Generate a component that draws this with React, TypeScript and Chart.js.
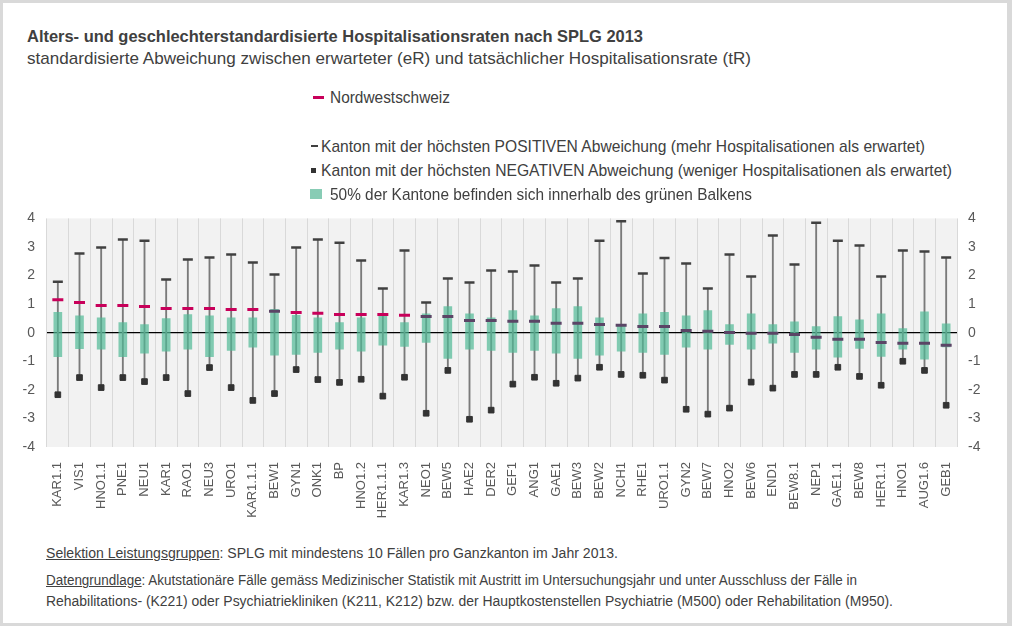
import React, { useEffect, useLayoutEffect, useRef } from 'react';
import { Chart, registerables } from 'chart.js';

Chart.register(...registerables);

const categories = ['KAR1.1','VIS1','HNO1.1','PNE1','NEU1','KAR1','RAO1','NEU3','URO1','KAR1.1.1','BEW1','GYN1','ONK1','BP','HNO1.2','HER1.1.1','KAR1.3','NEO1','BEW5','HAE2','DER2','GEF1','ANG1','GAE1','BEW3','BEW2','NCH1','RHE1','URO1.1','GYN2','BEW7','HNO2','BEW6','END1','BEW8.1','NEP1','GAE1.1','BEW8','HER1.1','HNO1','AUG1.6','GEB1'];

const maxValues = [1.78,2.77,2.98,3.26,3.22,1.86,2.56,2.63,2.74,2.46,2.04,2.98,3.26,3.15,2.53,1.55,2.88,1.06,1.90,1.76,2.18,2.14,2.35,1.76,1.90,3.22,3.90,2.07,2.61,2.42,1.55,2.74,1.97,3.40,2.39,3.85,3.22,3.05,1.97,2.88,2.84,2.63];

const nwsValues = [1.15,1.06,0.95,0.95,0.92,0.85,0.85,0.85,0.81,0.81,0.75,0.71,0.68,0.64,0.64,0.64,0.61,0.57,0.57,0.43,0.43,0.40,0.40,0.33,0.33,0.29,0.26,0.22,0.22,0.08,0.05,0.01,-0.02,-0.02,-0.06,-0.16,-0.23,-0.23,-0.34,-0.37,-0.37,-0.44];

const boxHigh = [0.71,0.59,0.52,0.35,0.28,0.49,0.63,0.59,0.52,0.52,0.82,0.61,0.52,0.35,0.52,0.60,0.35,0.66,0.91,0.66,0.52,0.77,0.59,0.84,0.91,0.52,0.28,0.66,0.71,0.59,0.77,0.28,0.66,0.28,0.38,0.21,0.56,0.45,0.66,0.14,0.73,0.31];

const boxLow = [-0.84,-0.56,-0.58,-0.84,-0.72,-0.65,-0.58,-0.84,-0.62,-0.51,-0.79,-0.76,-0.69,-0.58,-0.65,-0.44,-0.48,-0.34,-0.90,-0.58,-0.62,-0.69,-0.62,-0.72,-0.90,-0.79,-0.65,-0.69,-0.76,-0.51,-0.58,-0.41,-0.58,-0.37,-0.69,-0.58,-0.86,-0.55,-0.83,-0.58,-0.93,-0.50];

const minValues = [-2.17,-1.57,-1.92,-1.57,-1.71,-1.57,-2.13,-1.22,-1.92,-2.37,-2.13,-1.29,-1.64,-1.74,-1.63,-2.22,-1.56,-2.82,-1.32,-3.03,-2.71,-1.80,-1.56,-1.77,-1.59,-1.21,-1.46,-1.49,-1.66,-2.68,-2.85,-2.64,-1.73,-1.94,-1.46,-1.46,-1.21,-1.53,-1.84,-1.00,-1.32,-2.54];

const yMin = -4;
const yMax = 4;

const FONT = '"Liberation Sans", Arial, sans-serif';
const TEXT = '#404040';
const MAGENTA = '#c8005a';
const NWS_IN_BOX = '#5b4566';
const BOX = 'rgba(80,185,150,0.7)';

function FitText(props: { x: number; yc: number; w: number; size: number; bold?: boolean; children: React.ReactNode }) {
  const ref = useRef<HTMLSpanElement>(null);
  useLayoutEffect(() => {
    const el = ref.current;
    if (!el) return;
    el.style.transform = 'none';
    const actual = el.getBoundingClientRect().width;
    if (actual > 0) el.style.transform = `scaleX(${props.w / actual})`;
  });
  return (
    <span
      ref={ref}
      style={{
        position: 'absolute',
        left: props.x,
        top: props.yc - 0.49 * props.size,
        whiteSpace: 'nowrap',
        transformOrigin: '0 0',
        fontFamily: FONT,
        fontSize: props.size,
        fontWeight: props.bold ? 700 : 400,
        color: TEXT,
        lineHeight: 1,
      }}
    >
      {props.children}
    </span>
  );
}

const bgPlugin = {
  id: 'plotBg',
  beforeDraw(chart: any) {
    const { ctx, chartArea } = chart;
    ctx.save();
    ctx.fillStyle = '#f2f2f2';
    ctx.fillRect(chartArea.left, chartArea.top, chartArea.right - chartArea.left, chartArea.bottom - chartArea.top);
    ctx.restore();
  },
};

function BoxChart() {
  const canvasRef = useRef<HTMLCanvasElement>(null);
  useEffect(() => {
    if (!canvasRef.current) return;
    const whisker = categories.map((_, i) => [minValues[i], maxValues[i]]);
    const boxes = categories.map((_, i) => [boxLow[i], boxHigh[i]]);
    const nwsColors = nwsValues.map((v, i) => (v <= boxHigh[i] && v >= boxLow[i] ? NWS_IN_BOX : MAGENTA));
    const tickFont = { family: FONT, size: 14 };
    const chart = new Chart(canvasRef.current, {
      type: 'bar',
      data: {
        labels: categories,
        datasets: [
          { type: 'bar', data: whisker as any, backgroundColor: '#7a7a7a', barThickness: 1.2, grouped: false, order: 5 } as any,
          {
            type: 'line', data: nwsValues, showLine: false, pointStyle: 'line',
            pointRadius: 5.5, pointHoverRadius: 5.5, pointBorderWidth: 3,
            pointBorderColor: nwsColors, pointBackgroundColor: nwsColors, order: 1,
          } as any,
          { type: 'bar', data: boxes as any, backgroundColor: BOX, barThickness: 8, grouped: false, order: 3 } as any,
          {
            type: 'line', data: maxValues, showLine: false, pointStyle: 'line',
            pointRadius: 5, pointHoverRadius: 5, pointBorderWidth: 2.5, pointBorderColor: '#404040', order: 2,
          } as any,
          {
            type: 'line', data: minValues, showLine: false, pointStyle: 'rect',
            pointRadius: 4, pointHoverRadius: 4, pointBorderWidth: 1,
            pointBorderColor: '#333333', pointBackgroundColor: '#333333', order: 0,
          } as any,
        ],
      },
      options: {
        responsive: false,
        animation: false,
        events: [],
        layout: { autoPadding: false, padding: { top: 0, left: 0, right: 0, bottom: 0 } },
        plugins: { legend: { display: false }, tooltip: { enabled: false } },
        scales: {
          x: {
            type: 'category',
            offset: true,
            grid: { color: '#d9d9d9', lineWidth: 1, drawTicks: false, offset: true },
            border: { display: false },
            ticks: { color: '#595959', font: { family: FONT, size: 13 }, minRotation: 90, maxRotation: 90, padding: 15, autoSkip: false },
            afterFit: (s: any) => { s.height = 98; },
          },
          y: {
            position: 'left', min: yMin, max: yMax,
            ticks: { stepSize: 1, color: '#595959', font: tickFont, padding: 12 },
            grid: {
              drawTicks: false,
              color: (c: any) => (c.tick && c.tick.value === 0 ? '#000000' : 'rgba(0,0,0,0)'),
              lineWidth: 1.3,
            },
            border: { display: false },
            afterFit: (s: any) => { s.width = 47; },
          },
          y2: {
            position: 'right', min: yMin, max: yMax,
            ticks: { stepSize: 1, color: '#595959', font: tickFont, padding: 11 },
            grid: { display: false, drawTicks: false },
            border: { display: false },
            afterFit: (s: any) => { s.width = 55; },
          },
        },
      } as any,
      plugins: [bgPlugin],
    });
    return () => chart.destroy();
  }, []);
  return <canvas ref={canvasRef} width={1012} height={347} style={{ position: 'absolute', left: 0, top: 198, width: 1012, height: 347 }} />;
}

export default function App() {
  return (
    <div style={{ position: 'fixed', left: 0, top: 0, width: 1012, height: 626, background: '#d9d9d9', overflow: 'hidden' }}>
      <div style={{ position: 'absolute', left: 3, top: 3, right: 5, bottom: 3, background: '#ffffff' }} />
      <BoxChart />
      <FitText x={27} yc={36} w={616} size={17} bold>Alters- und geschlechterstandardisierte Hospitalisationsraten nach SPLG 2013</FitText>
      <FitText x={27} yc={58} w={724} size={17}>standardisierte Abweichung zwischen erwarteter (eR) und tatsächlicher Hospitalisationsrate (tR)</FitText>

      <div style={{ position: 'absolute', left: 313, top: 96, width: 11, height: 2.5, background: MAGENTA }} />
      <FitText x={330} yc={97} w={120} size={17}>Nordwestschweiz</FitText>

      <div style={{ position: 'absolute', left: 311, top: 145, width: 7, height: 2, background: '#404040' }} />
      <FitText x={321} yc={146} w={604} size={17}>Kanton mit der höchsten POSITIVEN Abweichung (mehr Hospitalisationen als erwartet)</FitText>

      <div style={{ position: 'absolute', left: 311, top: 168, width: 5, height: 5, background: '#333333' }} />
      <FitText x={321} yc={170} w={631} size={17}>Kanton mit der höchsten NEGATIVEN Abweichung (weniger Hospitalisationen als erwartet)</FitText>

      <div style={{ position: 'absolute', left: 310, top: 189, width: 12, height: 10, background: '#88ccb5' }} />
      <FitText x={330} yc={194} w={422} size={17}>50% der Kantone befinden sich innerhalb des grünen Balkens</FitText>

      <FitText x={46} yc={553} w={572} size={14}><span style={{ textDecoration: 'underline' }}>Selektion Leistungsgruppen</span>: SPLG mit mindestens 10 Fällen pro Ganzkanton im Jahr 2013.</FitText>
      <FitText x={46} yc={580} w={811} size={14}><span style={{ textDecoration: 'underline' }}>Datengrundlage</span>: Akutstationäre Fälle gemäss Medizinischer Statistik mit Austritt  im Untersuchungsjahr und unter Ausschluss der Fälle in</FitText>
      <FitText x={46} yc={601} w={847} size={14}>Rehabilitations- (K221) oder Psychiatriekliniken (K211, K212) bzw. der Hauptkostenstellen Psychiatrie (M500) oder Rehabilitation (M950).</FitText>
    </div>
  );
}
